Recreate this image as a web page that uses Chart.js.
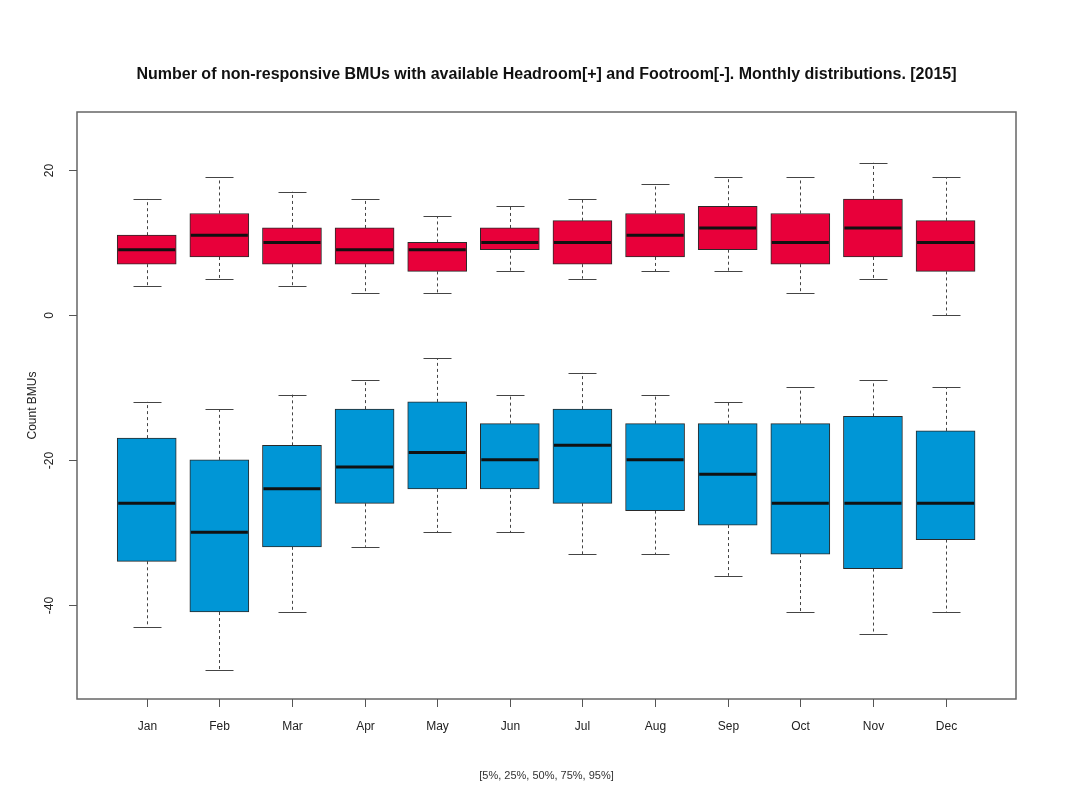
<!DOCTYPE html>
<html>
<head>
<meta charset="utf-8">
<script src="https://cdn.jsdelivr.net/npm/chart.js@4.4.1/dist/chart.umd.min.js"></script>
<style>
  html, body { margin: 0; padding: 0; background: #fff; }
  canvas { display: block; }
</style>
</head>
<body>
<canvas id="chart" width="1078" height="787"></canvas>
<script>
// months on the x axis
const months = ["Jan", "Feb", "Mar", "Apr", "May", "Jun", "Jul", "Aug", "Sep", "Oct", "Nov", "Dec"];

// Headroom [+] percentiles (5%, 25%, 50%, 75%, 95%)
const headP5  = [4, 5, 4, 3, 3, 6, 5, 6, 6, 3, 5, 0];
const headP25 = [7, 8, 7, 7, 6, 9, 7, 8, 9, 7, 8, 6];
const headP50 = [9, 11, 10, 9, 9, 10, 10, 11, 12, 10, 12, 10];
const headP75 = [11, 14, 12, 12, 10, 12, 13, 14, 15, 14, 16, 13];
const headP95 = [16, 19, 17, 16, 13.6, 15, 16, 18, 19, 19, 21, 19];

// Footroom [-] percentiles (5%, 25%, 50%, 75%, 95%)
const footP5  = [-43, -49, -41, -32, -30, -30, -33, -33, -36, -41, -44, -41];
const footP25 = [-34, -41, -32, -26, -24, -24, -26, -27, -29, -33, -35, -31];
const footP50 = [-26, -30, -24, -21, -19, -20, -18, -20, -22, -26, -26, -26];
const footP75 = [-17, -20, -18, -13, -12, -15, -13, -15, -15, -15, -14, -16];
const footP95 = [-12, -13, -11, -9, -6, -11, -8, -11, -12, -10, -9, -10];

const yTicks = [-40, -20, 0, 20];

const titleText = "Number of non-responsive BMUs with available Headroom[+] and Footroom[-]. Monthly distributions. [2015]";
const yTitle = "Count BMUs";
const xNote = "[5%, 25%, 50%, 75%, 95%]";

const BOX_W = 59;
const CAP_W = 28;
const FONT = "'Liberation Sans', Arial, sans-serif";

const series = [
  { low: headP5, q1: headP25, med: headP50, q3: headP75, high: headP95, color: "#e8003a" },
  { low: footP5, q1: footP25, med: footP50, q3: footP75, high: footP95, color: "#0096d6" },
];

// draws whiskers, caps and medians from the arrays through the chart scales
const boxplotPlugin = {
  id: "boxplot",
  beforeDatasetsDraw(chart) {
    const ctx = chart.ctx;
    const xs = chart.scales.x, ys = chart.scales.y;
    ctx.save();
    ctx.strokeStyle = "#444";
    ctx.lineWidth = 1;
    series.forEach((s) => {
      months.forEach((m, i) => {
        const x = Math.round(xs.getPixelForValue(i + 1)) + 0.5;
        ctx.setLineDash([3, 3]);
        ctx.beginPath();
        ctx.moveTo(x, ys.getPixelForValue(s.q3[i]));
        ctx.lineTo(x, ys.getPixelForValue(s.high[i]));
        ctx.moveTo(x, ys.getPixelForValue(s.q1[i]));
        ctx.lineTo(x, ys.getPixelForValue(s.low[i]));
        ctx.stroke();
        ctx.setLineDash([]);
        ctx.beginPath();
        [s.high[i], s.low[i]].forEach((v) => {
          const y = Math.round(ys.getPixelForValue(v)) + 0.5;
          ctx.moveTo(x - CAP_W / 2, y);
          ctx.lineTo(x + CAP_W / 2, y);
        });
        ctx.stroke();
      });
    });
    ctx.restore();
  },
  afterDatasetsDraw(chart) {
    const ctx = chart.ctx;
    const xs = chart.scales.x, ys = chart.scales.y;
    ctx.save();
    ctx.strokeStyle = "#111";
    ctx.lineWidth = 3;
    series.forEach((s) => {
      s.med.forEach((v, i) => {
        const x = xs.getPixelForValue(i + 1);
        const y = ys.getPixelForValue(v);
        ctx.beginPath();
        ctx.moveTo(x - BOX_W / 2 + 1, y);
        ctx.lineTo(x + BOX_W / 2 - 1, y);
        ctx.stroke();
      });
    });
    ctx.restore();
  },
  afterDraw(chart) {
    const ctx = chart.ctx;
    const area = chart.chartArea;
    const xs = chart.scales.x, ys = chart.scales.y;
    ctx.save();

    // frame
    ctx.strokeStyle = "#666";
    ctx.lineWidth = 1.5;
    ctx.strokeRect(area.left, area.top, area.right - area.left, area.bottom - area.top);

    // x ticks and labels
    ctx.lineWidth = 1;
    ctx.strokeStyle = "#555";
    ctx.fillStyle = "#222";
    ctx.font = "12px " + FONT;
    ctx.textAlign = "center";
    ctx.textBaseline = "middle";
    months.forEach((m, i) => {
      const x = Math.round(xs.getPixelForValue(i + 1)) + 0.5;
      ctx.beginPath();
      ctx.moveTo(x, area.bottom);
      ctx.lineTo(x, area.bottom + 8);
      ctx.stroke();
      ctx.fillText(m, x, area.bottom + 28);
    });

    // y ticks and rotated labels
    yTicks.forEach((t) => {
      const y = Math.round(ys.getPixelForValue(t)) + 0.5;
      ctx.beginPath();
      ctx.moveTo(area.left, y);
      ctx.lineTo(area.left - 8, y);
      ctx.stroke();
      ctx.save();
      ctx.translate(area.left - 27, y);
      ctx.rotate(-Math.PI / 2);
      ctx.fillText(String(t), 0, 0);
      ctx.restore();
    });

    // y axis title
    ctx.save();
    ctx.translate(33, (area.top + area.bottom) / 2);
    ctx.rotate(-Math.PI / 2);
    ctx.fillText(yTitle, 0, 0);
    ctx.restore();

    // main title
    const cx = (area.left + area.right) / 2;
    ctx.fillStyle = "#111";
    ctx.font = "bold 16px " + FONT;
    ctx.fillText(titleText, cx, 75);

    // percentile note
    ctx.fillStyle = "#333";
    ctx.font = "11px " + FONT;
    ctx.fillText(xNote, cx, 776);

    ctx.restore();
  },
};

const ctx = document.getElementById("chart").getContext("2d");
const chart = new Chart(ctx, {
  type: "bar",
  data: {
    datasets: series.map((s, k) => ({
      label: k === 0 ? "Headroom[+]" : "Footroom[-]",
      data: months.map((m, i) => ({ x: i + 1, y: [s.q1[i], s.q3[i]] })),
      backgroundColor: s.color,
      borderColor: "#2a2a2a",
      borderWidth: 1,
      borderSkipped: false,
      barThickness: BOX_W,
      grouped: false,
    })),
  },
  options: {
    responsive: false,
    animation: false,
    layout: { padding: { left: 77, right: 62, top: 112, bottom: 88 } },
    plugins: {
      legend: { display: false },
      title: { display: false },
      tooltip: { enabled: false },
    },
    scales: {
      x: { type: "linear", min: 0.04, max: 12.97, offset: false, display: false },
      y: { type: "linear", min: -53, max: 28, display: false },
    },
  },
  plugins: [boxplotPlugin],
});
</script>
</body>
</html>
